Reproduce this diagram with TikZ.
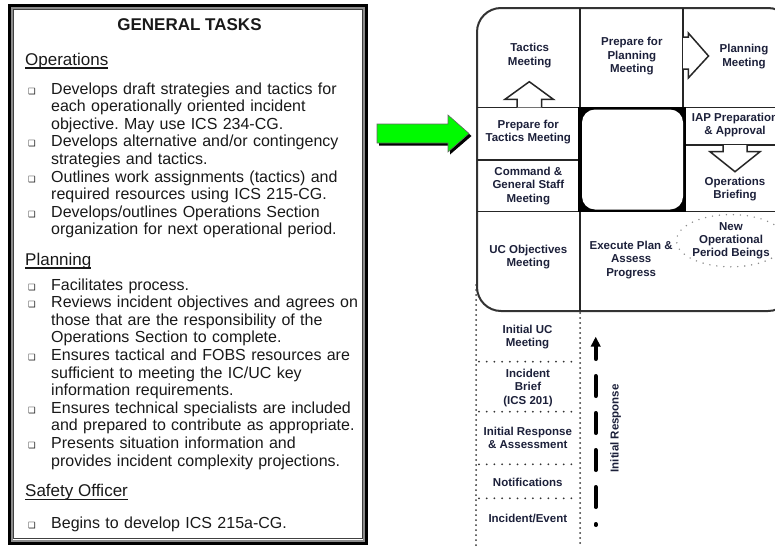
\documentclass[tikz,border=0pt]{standalone}
\usepackage{fontspec}
\setmainfont{Liberation Sans}
\newfontfamily\symfont{DejaVu Sans}
\usetikzlibrary{arrows.meta,shapes.geometric}
\frenchspacing

\definecolor{inkblue}{RGB}{28,32,58}
\definecolor{arrowgreen}{RGB}{0,250,0}

% checkbox bullet, task item and underlined heading
\newcommand{\bx}{{\symfont\fontsize{8.5}{8.5}\selectfont ❑}}
\newcommand{\tsk}[1]{\hangindent=26pt\hangafter=1\noindent\makebox[26pt][l]{\hspace{3pt}\bx}#1\par}
\newcommand{\sechead}[1]{\setbox0\hbox{#1}\rlap{\rule[-3.5pt]{\wd0}{1.3pt}}\box0}

\tikzset{
  tlist/.style={anchor=base west,inner sep=0pt,text width=345pt,align=left,
    font=\fontsize{16}{17.6}\selectfont,text=black!90},
  thead/.style={anchor=base west,inner sep=0pt,font=\fontsize{17}{20}\selectfont,text=black!90},
  cell/.style={inner sep=0pt,align=center,font=\bfseries\fontsize{11.5}{13.3}\selectfont,text=inkblue},
  gridline/.style={line width=1.5pt,draw=black!85},
  blockarrow/.style={gridline,fill=white,line join=miter},
  dotv/.style={line width=2pt,line cap=round,dash pattern=on 0pt off 5pt,draw=black!80},
  doth/.style={line width=2pt,line cap=round,dash pattern=on 0pt off 7.7pt,draw=black!80},
}

\begin{document}
\begin{tikzpicture}[x=1pt,y=-1pt]
  \useasboundingbox (0,0) rectangle (775,546);
  \clip (0,0) rectangle (775,546);

  % left panel
  \draw[line width=3pt,black] (9.5,5.5) rectangle (366.5,543);
  \draw[line width=2pt,black!45] (12,8) rectangle (364,540.5);
  \draw[line width=0.8pt,black!75] (13.8,9.8) rectangle (362.2,538.7);

  \node[anchor=base,inner sep=0pt,font=\bfseries\fontsize{17}{20}\selectfont,text=black!90] (title) at (189.5,30.7) {GENERAL TASKS};

  \node[thead] (opshead) at (25,65) {\sechead{Operations}};
  \node[tlist] (opslist) at (25,94) {%
    \tsk{Develops draft strategies and tactics for\newline each operationally oriented incident\newline objective. May use ICS 234-CG.}%
    \tsk{Develops alternative and/or contingency\newline strategies and tactics.}%
    \tsk{Outlines work assignments (tactics) and\newline required resources using ICS 215-CG.}%
    \tsk{Develops/outlines Operations Section\newline organization for next operational period.}};

  \node[thead] (planhead) at (25,265) {\sechead{Planning}};
  \node[tlist] (planlist) at (25,290) {%
    \tsk{Facilitates process.}%
    \tsk{Reviews incident objectives and agrees on\newline those that are the responsibility of the\newline Operations Section to complete.}%
    \tsk{Ensures tactical and FOBS resources are\newline sufficient to meeting the IC/UC key\newline information requirements.}%
    \tsk{Ensures technical specialists are included\newline and prepared to contribute as appropriate.}%
    \tsk{Presents situation information and\newline provides incident complexity projections.}};

  \node[thead] (safehead) at (25,496.7) {\sechead{Safety Officer}};
  \node[tlist] (safelist) at (25,528) {\tsk{Begins to develop ICS 215a-CG.}};

  % green pointer
  \fill[black] (379,126.5) -- (450,126.5) -- (450,117.5) -- (471.5,136) -- (450,154.5) -- (450,145.5) -- (379,145.5) -- cycle;
  \draw[fill=arrowgreen,draw=black!60,line width=0.6pt] (377,124) -- (448,124) -- (448,115) -- (469,133.5) -- (448,152) -- (448,143) -- (377,143) -- cycle;

  % planning P
  \draw[line width=2pt,draw=black!80,rounded corners=24pt] (477,8) rectangle (792,311);
  \draw[gridline] (477,107.3) -- (792,107.3);
  \draw[gridline] (477,160) -- (580,160);
  \draw[gridline] (477,211.5) -- (580,211.5);
  \draw[gridline] (683,211.5) -- (792,211.5);
  \draw[gridline] (683,145) -- (792,145);
  \draw[gridline] (580,8) -- (580,311);
  \draw[gridline] (683,8) -- (683,211.5);
  \fill[black] (578,106.5) rectangle (686,212);
  \fill[white,rounded corners=13pt] (582,109.5) rectangle (683,209.5);

  \draw[blockarrow] (517,107.3) -- (517,99.3) -- (505,99.3) -- (529.3,81.7) -- (553.3,99.3) -- (541.7,99.3) -- (541.7,107.3);
  \draw[blockarrow] (683,37) -- (688.3,37) -- (688.3,33) -- (708.5,56) -- (688.3,78) -- (688.3,69) -- (683,69);
  \draw[blockarrow] (723,145) -- (723,151.7) -- (710,151.7) -- (735,171.7) -- (760,151.7) -- (747,151.7) -- (747,145);

  \node[cell] (tactics) at (529.7,55.5) {Tactics\\Meeting};
  \node[cell] (prepplan) at (631.8,56.3) {Prepare for\\Planning\\Meeting};
  \node[cell] (planning) at (744,56.7) {Planning\\Meeting};
  \node[cell] (preptact) at (528.3,132) {Prepare for\\Tactics Meeting};
  \node[cell] (cgs) at (528.3,185.8) {Command \&\\General Staff\\Meeting};
  \node[cell] (iap) at (735,125.3) {IAP Preparation\\\& Approval};
  \node[cell] (opsbrief) at (735,188.8) {Operations\\Briefing};
  \node[cell] (ucobj) at (528.3,257) {UC Objectives\\Meeting};
  \node[cell] (execute) at (631.2,260) {Execute Plan \&\\Assess\\Progress};
  \node[cell,ellipse,draw=black!45,line width=1.6pt,line cap=round,dash pattern=on 0pt off 7pt,
    minimum width=99pt,minimum height=45pt] (newop) at (731,240.7) {New\\Operational\\Period Beings};

  % initial response
  \draw[dotv] (476,285) -- (476,546);
  \draw[dotv] (580,313) -- (580,546);
  \foreach \y in {361.7,411.7,464.3,498.3}
    \draw[doth] (479,\y) -- (578,\y);

  \node[cell] (initmeet) at (527.5,337) {Initial UC\\Meeting};
  \node[cell] (brief) at (528,388) {Incident\\Brief\\(ICS 201)};
  \node[cell] (assess) at (527.8,438) {Initial Response\\\& Assessment};
  \node[cell] (notif) at (527.8,482) {Notifications};
  \node[cell] (event) at (527.8,518) {Incident/Event};

  \coordinate (irstart) at (595.7,525);
  \coordinate (irend) at (595.7,336.7);
  \draw[line width=4pt,line cap=round,dash pattern=on 20pt off 17pt,dash phase=19pt,
    -{Triangle[width=9.5pt,length=10pt]}] (irstart) -- (irend);
  \node[cell,rotate=90] (irlabel) at (615.7,428.3) {Initial Response};
\end{tikzpicture}
\end{document}
